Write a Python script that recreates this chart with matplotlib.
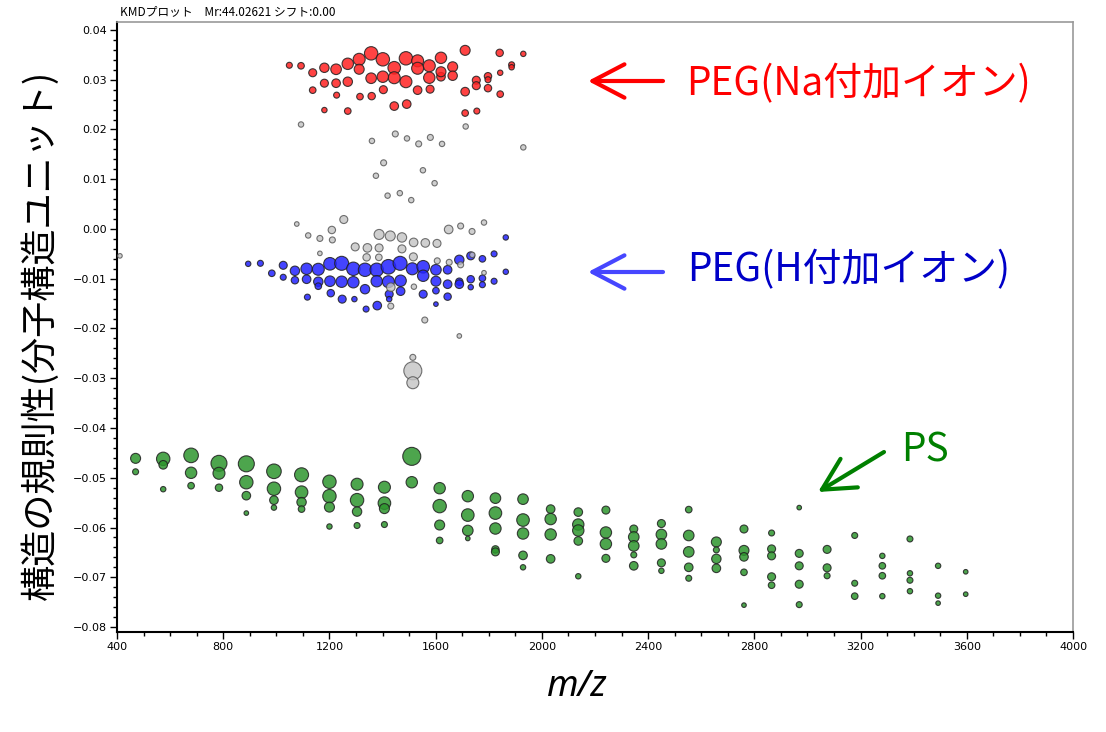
import matplotlib
matplotlib.use('Agg')
import matplotlib.pyplot as plt
from matplotlib.ticker import MultipleLocator, FuncFormatter

plt.rcParams['font.family'] = ['Noto Sans CJK JP', 'DejaVu Sans']

# PS series: one m/z per oligomer column, KMD values and relative abundance per column
ps_mz = [470, 574, 679, 784, 887, 991, 1095, 1200, 1304, 1407, 1510, 1615, 1721, 1825, 1929, 2033,
         2137, 2241, 2346, 2450, 2553, 2657, 2761, 2865, 2969, 3074, 3178, 3282, 3386, 3492, 3596]
ps_kmd = [
    [-0.0461, -0.0488],
    [-0.0462, -0.0474, -0.0523],
    [-0.0455, -0.0490, -0.0516],
    [-0.0471, -0.0491, -0.0520],
    [-0.0472, -0.0509, -0.0536, -0.0571],
    [-0.0487, -0.0522, -0.0545, -0.0560],
    [-0.0494, -0.0529, -0.0549, -0.0563],
    [-0.0508, -0.0537, -0.0559, -0.0598],
    [-0.0513, -0.0545, -0.0568, -0.0596],
    [-0.0519, -0.0551, -0.0562, -0.0594],
    [-0.0457, -0.0509],
    [-0.0521, -0.0557, -0.0595, -0.0626],
    [-0.0537, -0.0575, -0.0606, -0.0622],
    [-0.0541, -0.0571, -0.0602, -0.0644, -0.0649],
    [-0.0543, -0.0585, -0.0612, -0.0656, -0.0680],
    [-0.0563, -0.0583, -0.0614, -0.0663],
    [-0.0569, -0.0594, -0.0606, -0.0627, -0.0698],
    [-0.0565, -0.0610, -0.0633, -0.0662],
    [-0.0603, -0.0619, -0.0637, -0.0655, -0.0677],
    [-0.0592, -0.0614, -0.0633, -0.0671, -0.0687],
    [-0.0564, -0.0616, -0.0649, -0.0680, -0.0702],
    [-0.0629, -0.0645, -0.0663, -0.0682],
    [-0.0603, -0.0646, -0.0659, -0.0690, -0.0756],
    [-0.0611, -0.0643, -0.0657, -0.0699, -0.0716],
    [-0.0560, -0.0652, -0.0677, -0.0714, -0.0755],
    [-0.0644, -0.0681, -0.0697],
    [-0.0616, -0.0712, -0.0738],
    [-0.0657, -0.0677, -0.0697, -0.0738],
    [-0.0623, -0.0692, -0.0706, -0.0728],
    [-0.0677, -0.0737, -0.0752],
    [-0.0689, -0.0734],
]
ps_abund = [
    [5.0, 3.0],
    [6.7, 4.3, 2.7],
    [7.3, 5.7, 3.3],
    [8.0, 6.0, 3.7],
    [8.0, 6.7, 4.3, 2.3],
    [7.3, 6.7, 4.3, 2.7],
    [7.0, 6.3, 4.7, 3.3],
    [6.7, 6.7, 5.0, 2.7],
    [6.0, 6.7, 4.7, 3.0],
    [6.0, 6.3, 5.0, 3.0],
    [9.0, 5.7],
    [5.7, 6.7, 5.0, 3.3],
    [5.7, 6.3, 5.3, 2.3],
    [5.3, 6.3, 5.7, 3.7, 4.0],
    [5.3, 6.3, 5.7, 4.3, 2.7],
    [4.3, 5.7, 5.7, 4.3],
    [4.3, 5.7, 5.7, 4.3, 2.7],
    [4.0, 5.7, 5.7, 4.0],
    [4.0, 5.3, 5.3, 3.0, 4.3],
    [4.0, 5.3, 5.3, 4.0, 2.7],
    [3.3, 5.3, 5.3, 4.3, 3.0],
    [5.0, 3.0, 4.7, 4.3],
    [4.0, 5.0, 4.3, 3.3, 2.3],
    [3.0, 4.0, 4.0, 4.0, 3.3],
    [2.3, 4.0, 4.0, 4.0, 3.0],
    [4.0, 4.0, 3.0],
    [3.0, 3.0, 3.3],
    [2.7, 3.3, 3.3, 2.7],
    [3.0, 2.7, 3.0, 2.7],
    [2.7, 2.7, 2.3],
    [2.3, 2.3],
]

# PEG, Na adduct
na_mz = [1049, 1093, 1137, 1181, 1225, 1269, 1312, 1357, 1401, 1444, 1488, 1532, 1576, 1620, 1664, 1711,
         1841, 1930, 1886, 1886, 1843, 1797, 1797, 1753, 1753, 1797, 1711, 1843, 1664, 1620, 1620, 1576,
         1532, 1488, 1444, 1401, 1357, 1312, 1269, 1225, 1181, 1137, 1227, 1315, 1359, 1403, 1532, 1579,
         1444, 1491, 1181, 1269, 1711, 1755]
na_kmd = [0.0329, 0.0328, 0.0314, 0.0324, 0.0321, 0.0332, 0.0341, 0.0353, 0.0341, 0.0324, 0.0343, 0.0338,
          0.0328, 0.0344, 0.0326, 0.0359, 0.0354, 0.0352, 0.0330, 0.0325, 0.0314, 0.0307, 0.0300, 0.0299,
          0.0288, 0.0283, 0.0276, 0.0271, 0.0308, 0.0306, 0.0316, 0.0304, 0.0323, 0.0296, 0.0304, 0.0306,
          0.0303, 0.0321, 0.0296, 0.0293, 0.0293, 0.0279, 0.0269, 0.0266, 0.0267, 0.0280, 0.0279, 0.0281,
          0.0247, 0.0251, 0.0239, 0.0237, 0.0233, 0.0237]
na_abund = [3.0, 3.3, 4.0, 4.7, 5.3, 5.7, 6.0, 6.7, 6.7, 6.3, 6.7, 6.0, 6.0, 5.7, 5.0, 5.0,
            3.7, 2.7, 3.0, 2.7, 2.7, 3.7, 3.0, 4.0, 4.0, 3.7, 4.3, 3.3, 4.7, 4.3, 5.0, 5.7,
            6.0, 6.0, 6.0, 5.7, 5.3, 5.0, 4.7, 4.3, 4.0, 3.3, 3.0, 3.3, 3.7, 4.0, 4.3, 4.0,
            4.3, 4.3, 2.7, 3.3, 3.3, 3.0]

# PEG, H adduct
h_mz = [894, 940, 983, 1026, 1026, 1070, 1070, 1114, 1114, 1117, 1158, 1158, 1158, 1202, 1202, 1205,
        1246, 1246, 1248, 1290, 1290, 1294, 1334, 1334, 1338, 1378, 1378, 1380, 1422, 1422, 1425, 1425,
        1466, 1468, 1468, 1512, 1553, 1553, 1553, 1601, 1601, 1601, 1601, 1645, 1645, 1645, 1689, 1689,
        1689, 1732, 1732, 1732, 1776, 1776, 1776, 1820, 1820, 1864, 1864]
h_kmd = [-0.0070, -0.0069, -0.0089, -0.0073, -0.0097, -0.0084, -0.0103, -0.0080, -0.0101, -0.0137,
         -0.0081, -0.0106, -0.0115, -0.0070, -0.0105, -0.0129, -0.0069, -0.0106, -0.0141, -0.0080,
         -0.0107, -0.0141, -0.0082, -0.0121, -0.0161, -0.0082, -0.0105, -0.0154, -0.0076, -0.0106,
         -0.0131, -0.0141, -0.0069, -0.0104, -0.0125, -0.0080, -0.0076, -0.0094, -0.0131, -0.0082,
         -0.0105, -0.0124, -0.0151, -0.0082, -0.0111, -0.0136, -0.0062, -0.0106, -0.0111, -0.0054,
         -0.0101, -0.0117, -0.0060, -0.0099, -0.0112, -0.0050, -0.0105, -0.0017, -0.0086]
h_abund = [2.7, 3.0, 3.3, 4.0, 3.0, 4.7, 3.7, 5.7, 4.3, 3.0, 6.0, 4.7, 3.3, 6.3, 5.3, 3.7,
           7.0, 5.7, 4.0, 6.7, 5.7, 2.7, 6.7, 4.7, 3.0, 6.7, 5.7, 4.3, 7.3, 6.0, 4.0, 2.7,
           7.0, 5.7, 4.3, 6.0, 6.3, 5.7, 4.0, 5.3, 5.0, 3.3, 2.3, 4.3, 4.3, 3.7, 4.7, 3.7,
           4.3, 4.0, 3.7, 2.7, 3.3, 3.3, 3.0, 3.0, 3.0, 2.7, 2.7]

# unassigned peaks
other_mz = [411, 1077, 1120, 1164, 1209, 1211, 1254, 1297, 1343, 1387, 1387, 1429, 1473, 1473, 1517, 1561,
            1605, 1649, 1694, 1737, 1782, 1164, 1340, 1386, 1516, 1431, 1518, 1606, 1651, 1694, 1782, 1738,
            1559, 1431, 1689, 1514, 1514, 1514,
            1093, 1713, 1930, 1360, 1448, 1492, 1536, 1580, 1624, 1404, 1375, 1552, 1596, 1419, 1465, 1508]
other_kmd = [-0.0054, 0.0010, -0.0013, -0.0019, -0.0002, -0.0022, 0.0019, -0.0036, -0.0038, -0.0038,
             -0.0011, -0.0014, -0.0017, -0.0040, -0.0027, -0.0028, -0.0029, -0.0001, 0.0006, -0.0005,
             0.0013, -0.0049, -0.0057, -0.0057, -0.0056, -0.0117, -0.0116, -0.0064, -0.0067, -0.0072,
             -0.0088, -0.0052, -0.0183, -0.0155, -0.0215, -0.0258, -0.0285, -0.0309,
             0.0210, 0.0206, 0.0164, 0.0177, 0.0191, 0.0182, 0.0171, 0.0184, 0.0171, 0.0133, 0.0107,
             0.0118, 0.0092, 0.0067, 0.0072, 0.0058]
other_abund = [2.3, 2.3, 2.7, 3.0, 3.7, 3.0, 4.0, 4.0, 4.3, 4.0, 5.0, 5.0, 4.7, 4.0, 4.3, 4.3,
               4.0, 4.3, 3.0, 3.0, 2.7, 2.3, 3.7, 3.3, 4.0, 4.3, 2.7, 3.0, 3.0, 3.0, 2.3, 2.7,
               3.0, 3.0, 2.3, 3.0, 9.0, 6.0,
               2.7, 2.7, 2.7, 2.7, 3.0, 2.7, 3.0, 3.0, 2.7, 3.0, 2.7, 2.7, 2.7, 2.7, 2.7, 2.7]

W, H = 1106, 732


def fp(x, y):
    # pixel position (from top-left) -> figure fraction
    return x / W, 1 - y / H


def msize(a):
    return [(1.44 * v) ** 2 for v in a]


fig = plt.figure(figsize=(W / 100, H / 100), dpi=100)
ax = fig.add_axes([117 / W, 1 - 632 / H, 956 / W, 610 / H])

ps_x = [m for m, col in zip(ps_mz, ps_kmd) for _ in col]
ps_y = [v for col in ps_kmd for v in col]
ps_s = [v for col in ps_abund for v in col]

edge = dict(edgecolors='#202020', linewidths=0.8)
ax.scatter(h_mz, h_kmd, s=msize(h_abund), c='#2323ff', alpha=0.85, **edge, zorder=3)
ax.scatter(na_mz, na_kmd, s=msize(na_abund), c='#ff2222', alpha=0.85, **edge, zorder=3)
ax.scatter(ps_x, ps_y, s=msize(ps_s), c='#2e962e', alpha=0.85, **edge, zorder=3)
ax.scatter(other_mz, other_kmd, s=msize(other_abund), c='#c4c4c4', alpha=0.8,
           edgecolors='#505050', linewidths=0.8, zorder=4)

ax.set_xlim(400, 4000)
ax.set_ylim(-0.081, 0.0416)
ax.xaxis.set_major_locator(MultipleLocator(400))
ax.xaxis.set_minor_locator(MultipleLocator(100))
ax.yaxis.set_major_locator(MultipleLocator(0.01))
ax.yaxis.set_minor_locator(MultipleLocator(0.002))
ax.yaxis.set_major_formatter(FuncFormatter(
    lambda v, _: '{0:.2f}'.format(round(v, 4) + 0.0).replace('-', '\u2212')))

tick_font = ['Liberation Sans Narrow', 'DejaVu Sans']
for lab in ax.get_xticklabels() + ax.get_yticklabels():
    lab.set_family(tick_font)
ax.tick_params(which='major', direction='out', length=5, width=1, labelsize=8, pad=2)
ax.tick_params(which='minor', direction='out', length=3, width=1)

for side in ['left', 'bottom']:
    ax.spines[side].set_linewidth(1.5)
    ax.spines[side].set_color('black')
for side in ['top', 'right']:
    ax.spines[side].set_linewidth(1.2)
    ax.spines[side].set_color('#999999')

fig.text(*fp(120, 12), 'KMDプロット\u3000Mr:44.02621 シフト:0.00', fontsize=8.5, va='center', ha='left')
fig.text(*fp(40, 335), '構造の規則性(分子構造ユニット)', rotation=90, fontsize=26,
         va='center', ha='center')
fig.text(*fp(577, 687), 'm/z', fontsize=26, style='italic', va='center', ha='center',
         family=['Noto Sans', 'DejaVu Sans'])

# annotations
notes = [
    ('PEG(Na付加イオン)', '#ff0000', '#ff0000', (663, 81), (588, 81), (686, 84)),
    ('PEG(H付加イオン)', '#0000c8', '#4646ff', (663, 272), (588, 272), (687, 270)),
    ('PS', '#008000', '#008000', (884, 452), (818, 492), (901, 450)),
]
for txt, tcol, acol, tail, head, tpos in notes:
    ax.annotate('', xy=fp(*head), xytext=fp(*tail), xycoords='figure fraction',
                textcoords='figure fraction',
                arrowprops=dict(arrowstyle='->, head_length=23, head_width=12', mutation_scale=1,
                                color=acol, lw=3, shrinkA=0, shrinkB=0))
    fig.text(*fp(*tpos), txt, color=tcol, fontsize=28, va='center', ha='left')

fig.savefig('out.png', dpi=100)
